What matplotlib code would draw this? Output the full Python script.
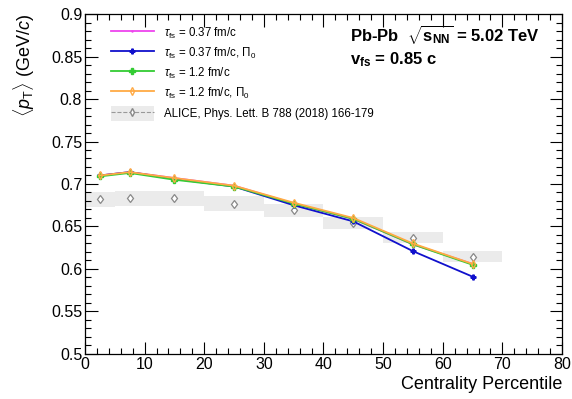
import matplotlib.pyplot as plt
from matplotlib.ticker import MultipleLocator
from matplotlib.patches import Rectangle, Patch
from matplotlib.lines import Line2D

plt.rcParams["font.family"] = ["Liberation Sans", "DejaVu Sans"]
plt.rcParams["mathtext.fontset"] = "custom"
plt.rcParams["mathtext.rm"] = "Liberation Sans"
plt.rcParams["mathtext.it"] = "Liberation Sans:italic"
plt.rcParams["mathtext.bf"] = "Liberation Sans:bold"

# centrality bins
cent = [2.5, 7.5, 15, 25, 35, 45, 55, 65]
cent_lo = [0, 5, 10, 20, 30, 40, 50, 60]
cent_hi = [5, 10, 20, 30, 40, 50, 60, 70]

# model <pT>
pt_037 = [0.710, 0.714, 0.707, 0.698, 0.677, 0.659, 0.629, 0.606]
pt_037_pi0 = [0.710, 0.714, 0.706, 0.697, 0.675, 0.656, 0.621, 0.591]
pt_12 = [0.709, 0.713, 0.705, 0.697, 0.677, 0.659, 0.629, 0.605]
pt_12_pi0 = [0.710, 0.714, 0.707, 0.698, 0.678, 0.660, 0.630, 0.606]

# ALICE data with systematic uncertainties
alice = [0.682, 0.683, 0.683, 0.677, 0.669, 0.654, 0.637, 0.6145]
alice_sys = [0.0085, 0.0085, 0.0085, 0.0085, 0.0075, 0.007, 0.007, 0.0065]

C_PINK = "#ee44ee"
C_BLUE = "#1010cc"
C_GREEN = "#33cc33"
C_ORANGE = "#ffaa44"

fig = plt.figure(figsize=(5.72, 3.99), dpi=100)
ax = fig.add_axes([0.1486, 0.1128, 0.8339, 0.8521])

for lo, hi, y, s in zip(cent_lo, cent_hi, alice, alice_sys):
    ax.add_patch(Rectangle((lo, y - s), hi - lo, 2 * s, facecolor="#ebebeb",
                           edgecolor="none", zorder=1))
ax.plot(cent, alice, ls="none", marker="d", ms=4.5, mfc="white",
        mec="#888888", mew=0.9, zorder=2)

styles = [
    dict(color=C_PINK, lw=1.3, marker=".", ms=1.5),
    dict(color=C_BLUE, lw=1.3, marker="P", ms=3.5),
    dict(color=C_GREEN, lw=1.3, marker="P", ms=4),
    dict(color=C_ORANGE, lw=1.3, marker="d", ms=4, mfc="none", mew=1.0),
]
for i, (vals, st) in enumerate(zip([pt_037, pt_037_pi0, pt_12, pt_12_pi0], styles)):
    ax.plot(cent, vals, zorder=3 + i, **st)

ax.set_xlim(0, 80)
ax.set_ylim(0.5, 0.9)
ax.xaxis.set_major_locator(MultipleLocator(10))
ax.xaxis.set_minor_locator(MultipleLocator(2))
ax.yaxis.set_minor_locator(MultipleLocator(0.01))
ax.set_yticks([0.5, 0.55, 0.6, 0.65, 0.7, 0.75, 0.8, 0.85, 0.9])
ax.set_yticklabels(["0.5", "0.55", "0.6", "0.65", "0.7", "0.75", "0.8", "0.85", "0.9"])
ax.tick_params(which="both", direction="in", top=True, right=True,
               labelsize=11.5, pad=2)
ax.tick_params(which="major", length=9, width=0.8)
ax.tick_params(which="minor", length=4.5, width=0.8)
for sp in ax.spines.values():
    sp.set_linewidth(0.9)

ax.set_xlabel("Centrality Percentile", fontsize=13, loc="right", labelpad=3)
ax.set_ylabel(r"$\langle p_{\mathrm{T}}\rangle$ (GeV/$c$)", fontsize=13,
              loc="top", labelpad=10)

ax.text(0.555, 0.975, r"Pb-Pb  $\sqrt{\mathbf{s_{NN}}}$ = 5.02 TeV",
        transform=ax.transAxes, fontsize=12, fontweight="bold", va="top")
ax.text(0.555, 0.893, r"v$_{\mathbf{fs}}$ = 0.85 c", transform=ax.transAxes,
        fontsize=12, fontweight="bold", va="top")

handles = [Line2D([], [], **st) for st in styles]
handles.append((Patch(facecolor="#ebebeb", edgecolor="none"),
                Line2D([], [], color="#999999", lw=0.8, ls="--", marker="d",
                       ms=4, mfc="white", mec="#888888")))
labels = [
    r"$\tau_{\mathrm{fs}}$ = 0.37 fm/c",
    r"$\tau_{\mathrm{fs}}$ = 0.37 fm/c, $\Pi_0$",
    r"$\tau_{\mathrm{fs}}$ = 1.2 fm/c",
    r"$\tau_{\mathrm{fs}}$ = 1.2 fm/c, $\Pi_0$",
    "ALICE, Phys. Lett. B 788 (2018) 166-179",
]
leg = ax.legend(handles, labels, loc="upper left", bbox_to_anchor=(0.045, 0.98),
                frameon=False, fontsize=8.3, handlelength=3.7, handleheight=1.6,
                handletextpad=0.9, labelspacing=0.42, borderaxespad=0)

fig.savefig("out.png", dpi=100)
